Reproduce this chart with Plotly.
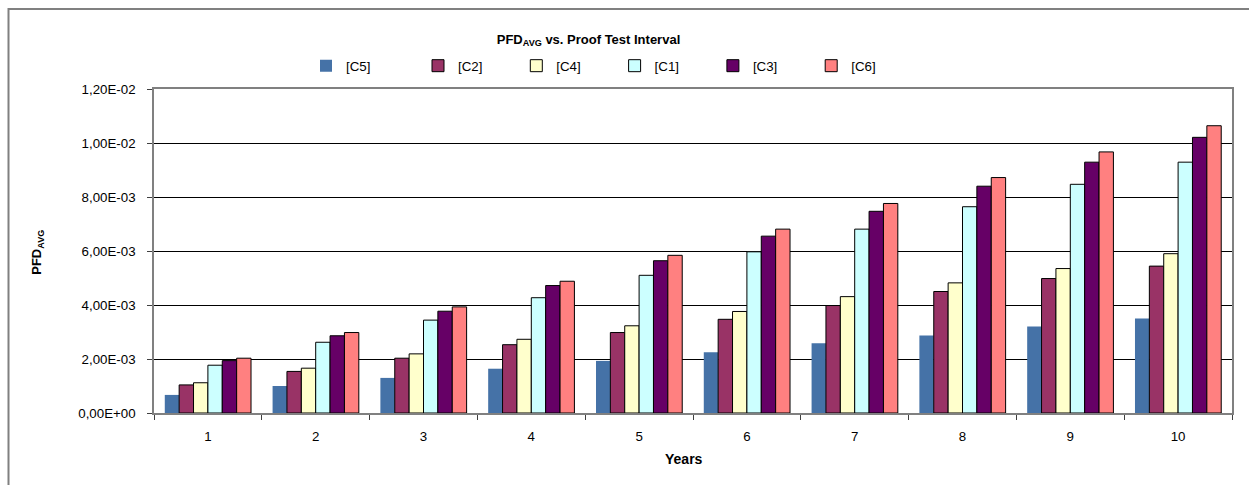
import plotly.graph_objects as go

years = ["1", "2", "3", "4", "5", "6", "7", "8", "9", "10"]
series_names = ["[C5]", "[C2]", "[C4]", "[C1]", "[C3]", "[C6]"]
c5 = [0.67e-3, 1.00e-3, 1.30e-3, 1.64e-3, 1.93e-3, 2.25e-3, 2.58e-3, 2.87e-3, 3.20e-3, 3.50e-3]
c2 = [1.04e-3, 1.54e-3, 2.03e-3, 2.53e-3, 2.98e-3, 3.47e-3, 3.98e-3, 4.50e-3, 4.98e-3, 5.44e-3]
c4 = [1.12e-3, 1.66e-3, 2.19e-3, 2.73e-3, 3.23e-3, 3.76e-3, 4.31e-3, 4.82e-3, 5.35e-3, 5.90e-3]
c1 = [1.77e-3, 2.62e-3, 3.44e-3, 4.27e-3, 5.10e-3, 5.97e-3, 6.81e-3, 7.64e-3, 8.47e-3, 9.29e-3]
c3 = [1.94e-3, 2.86e-3, 3.77e-3, 4.72e-3, 5.64e-3, 6.55e-3, 7.47e-3, 8.40e-3, 9.29e-3, 10.21e-3]
c6 = [2.03e-3, 2.98e-3, 3.93e-3, 4.88e-3, 5.84e-3, 6.81e-3, 7.76e-3, 8.72e-3, 9.67e-3, 10.64e-3]
y_tickvals = [0, 0.002, 0.004, 0.006, 0.008, 0.010, 0.012]
y_ticktext = ["0,00E+00", "2,00E-03", "4,00E-03", "6,00E-03", "8,00E-03", "1,00E-02", "1,20E-02"]

series_values = [c5, c2, c4, c1, c3, c6]
colors = ["#4572A7", "#993366", "#FFFFCC", "#CCFFFF", "#660066", "#FF8080"]
line_w = [0, 1, 1, 1, 1, 1]

FONT = "Liberation Sans, Arial, sans-serif"
FS = 13.3
W, H = 1249, 485
L, R, T, B = 154, 1232, 89, 413.5

fig = go.Figure()
for i, (name, vals, col, lw) in enumerate(zip(series_names, series_values, colors, line_w)):
    fig.add_trace(go.Bar(
        x=years, y=vals, name=name,
        legend="legend" if i == 0 else "legend2",
        marker=dict(color=col, line=dict(color="#000000", width=lw)),
    ))

def px2paper_x(px):
    return (px - L) / (R - L)

def px2paper_y(py):
    return (B - py) / (B - T)

legend_common = dict(
    orientation="h", yanchor="middle", y=px2paper_y(66), xanchor="left",
    entrywidth=53.3, entrywidthmode="pixels", itemwidth=30,
    font=dict(family=FONT, size=FS, color="#000000"),
    bgcolor="rgba(0,0,0,0)", traceorder="normal",
)

fig.update_layout(
    width=W, height=H,
    margin=dict(l=L, r=W - R, t=T, b=H - B, autoexpand=False),
    paper_bgcolor="white", plot_bgcolor="white",
    barmode="group", bargap=0.2, bargroupgap=0,
    font=dict(family=FONT, size=FS, color="#000000"),
    title=dict(
        text="<b>PFD<sub>AVG</sub> vs. Proof Test Interval</b>",
        x=588.5 / W, xanchor="center", xref="container",
        y=1 - 39 / H, yanchor="middle", yref="container",
        font=dict(family=FONT, size=13, color="#000000"),
    ),
    showlegend=True,
    legend=dict(legend_common, x=px2paper_x(306)),
    legend2=dict(legend_common, x=px2paper_x(418)),
    xaxis=dict(
        type="category",
        showgrid=False,
        showline=True, linecolor="#808080", linewidth=1.5, mirror=True,
        ticks="outside", ticklen=5, tickcolor="#404040", tickwidth=1,
        tickson="boundaries",
        ticklabelstandoff=10,
        tickfont=dict(family=FONT, size=FS, color="#000000"),
        automargin=False,
    ),
    yaxis=dict(
        range=[0, 0.012],
        tickvals=y_tickvals, ticktext=y_ticktext,
        showgrid=True, gridcolor="#000000", gridwidth=1,
        showline=True, linecolor="#808080", linewidth=1.5, mirror=True,
        ticks="outside", ticklen=5, tickcolor="#404040", tickwidth=1,
        ticklabelstandoff=9,
        tickfont=dict(family=FONT, size=FS, color="#000000"),
        zeroline=False,
        automargin=False,
    ),
    annotations=[
        dict(text="<b>Years</b>", xref="paper", yref="paper",
             x=px2paper_x(683.5), y=px2paper_y(460), xanchor="center", yanchor="middle",
             showarrow=False, font=dict(family=FONT, size=14, color="#000000")),
        dict(text="<b>PFD<sub>AVG</sub></b>", xref="paper", yref="paper",
             x=px2paper_x(38), y=px2paper_y(253), xanchor="center", yanchor="middle",
             textangle=-90, showarrow=False,
             font=dict(family=FONT, size=13, color="#000000")),
    ],
    shapes=[
        dict(type="rect", xref="paper", yref="paper",
             x0=px2paper_x(8.5), x1=px2paper_x(1300),
             y0=px2paper_y(540), y1=px2paper_y(9),
             line=dict(color="#808080", width=2), fillcolor="rgba(0,0,0,0)", layer="above"),
    ],
)

fig.write_html(
    "out.html",
    config={"displayModeBar": False},
    post_script="document.body.style.margin='0';document.body.style.overflow='hidden';",
)
